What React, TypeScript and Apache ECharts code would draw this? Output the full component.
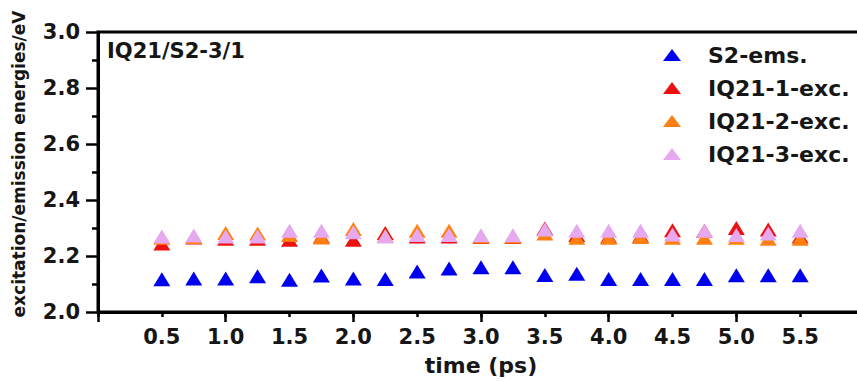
import React, { useEffect, useRef } from "react";
import * as echarts from "echarts";

const times = [0.5, 0.75, 1.0, 1.25, 1.5, 1.75, 2.0, 2.25, 2.5, 2.75, 3.0, 3.25, 3.5, 3.75, 4.0, 4.25, 4.5, 4.75, 5.0, 5.25, 5.5];
const s2Ems = [2.117, 2.12, 2.12, 2.128, 2.115, 2.13, 2.12, 2.118, 2.145, 2.155, 2.16, 2.16, 2.132, 2.137, 2.118, 2.118, 2.118, 2.118, 2.131, 2.131, 2.131];
const iq1Exc = [2.245, 2.266, 2.262, 2.262, 2.258, 2.27, 2.258, 2.282, 2.27, 2.27, 2.268, 2.268, 2.298, 2.275, 2.27, 2.272, 2.292, 2.29, 2.3, 2.295, 2.27];
const iq2Exc = [2.265, 2.268, 2.282, 2.28, 2.275, 2.266, 2.296, 2.272, 2.29, 2.29, 2.27, 2.27, 2.28, 2.265, 2.265, 2.268, 2.265, 2.265, 2.265, 2.262, 2.262];
const iq3Exc = [2.27, 2.273, 2.27, 2.27, 2.29, 2.29, 2.285, 2.27, 2.275, 2.275, 2.274, 2.274, 2.295, 2.29, 2.29, 2.29, 2.277, 2.29, 2.275, 2.28, 2.29];

const seriesNames = ["S2-ems.", "IQ21-1-exc.", "IQ21-2-exc.", "IQ21-3-exc."];
const seriesColors = ["#0000f0", "#ee1111", "#ff8010", "#e6a9ef"];
const seriesValues = [s2Ems, iq1Exc, iq2Exc, iq3Exc];
const panelTitle = "IQ21/S2-3/1";
const xName = "time (ps)";
const yName = "excitation/emission energies/eV";

const FONT = "'DejaVu Sans', 'Liberation Sans', Arial, sans-serif";
const TXT = "#161616";

export default function App() {
  const ref = useRef<HTMLDivElement>(null);
  useEffect(() => {
    document.body.style.margin = "0";
    document.body.style.overflow = "hidden";
    document.documentElement.style.overflow = "hidden";
    const chart = echarts.init(ref.current!, null, { renderer: "svg" });
    const axisLine = { show: true, lineStyle: { color: "#000", width: 3 } };
    chart.setOption({
      animation: false,
      backgroundColor: "#fff",
      textStyle: { fontFamily: FONT },
      title: {
        text: panelTitle,
        left: 107,
        top: 40,
        padding: 0,
        textStyle: { fontFamily: FONT, fontSize: 21, fontWeight: "bold", color: TXT },
      },
      legend: {
        orient: "vertical",
        left: 663,
        top: 44,
        padding: 0,
        itemGap: 11,
        itemWidth: 18,
        itemHeight: 12,
        icon: "triangle",
        data: seriesNames,
        textStyle: { fontFamily: FONT, fontSize: 22, fontWeight: "bold", color: TXT, padding: [0, 0, 0, 22] },
      },
      grid: {
        left: 98,
        top: 32,
        bottom: 66,
        right: 6,
        show: true,
        borderColor: "#000",
        borderWidth: 3,
        backgroundColor: "transparent",
      },
      xAxis: [
        {
          type: "value",
          position: "bottom",
          min: 0,
          max: 6,
          interval: 0.5,
          axisLine,
          axisTick: { show: true, inside: false, length: 5, lineStyle: { color: "#000", width: 2.5 } },
          axisLabel: {
            margin: 14,
            fontFamily: FONT,
            fontSize: 21,
            fontWeight: "bold",
            color: TXT,
            formatter: (v: number) => (v === 0 || v === 6 ? "" : v.toFixed(1)),
          },
          splitLine: { show: false },
          name: xName,
          nameLocation: "middle",
          nameGap: 42,
          nameTextStyle: { fontFamily: FONT, fontSize: 22, fontWeight: "bold", color: TXT },
        },
        {
          type: "value",
          position: "bottom",
          min: 0,
          max: 6,
          interval: 1,
          axisLine: { show: false },
          axisTick: { show: true, inside: false, length: 10, lineStyle: { color: "#000", width: 2.5 } },
          axisLabel: { show: false },
          splitLine: { show: false },
        },
      ],
      yAxis: {
        type: "value",
        min: 2.0,
        max: 3.0,
        interval: 0.2,
        axisLine,
        axisTick: { show: true, inside: false, length: 12, lineStyle: { color: "#000", width: 2.5 } },
        minorTick: { show: true, splitNumber: 2, length: 6, lineStyle: { color: "#000", width: 2.5 } },
        axisLabel: {
          margin: 18,
          fontFamily: FONT,
          fontSize: 21,
          fontWeight: "bold",
          color: TXT,
          formatter: (v: number) => v.toFixed(1),
        },
        splitLine: { show: false },
        name: yName,
        nameLocation: "middle",
        nameGap: 71,
        nameTextStyle: { fontFamily: FONT, fontSize: 17, fontWeight: "bold", color: TXT, padding: [0, 0, 0, 16] },
      },
      series: seriesNames.map((name, i) => ({
        name,
        type: "scatter",
        xAxisIndex: 0,
        symbol: "triangle",
        symbolSize: [17, 14],
        itemStyle: { color: seriesColors[i], opacity: 1 },
        data: times.map((t, j) => [t, seriesValues[i][j]]),
      })),
    });
    return () => chart.dispose();
  }, []);
  return <div ref={ref} style={{ width: 870, height: 381 }} />;
}
